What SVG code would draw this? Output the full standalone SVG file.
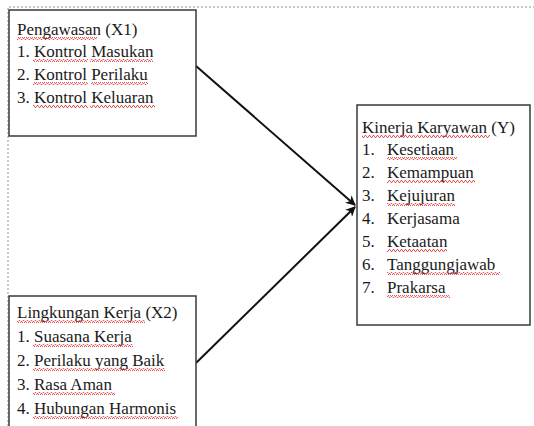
<svg xmlns="http://www.w3.org/2000/svg" width="534" height="426" viewBox="0 0 534 426">
<style>
.box{fill:#fff;stroke:#3a3a3a;stroke-width:1.5}
.t{font-family:'Liberation Serif','DejaVu Serif',serif;font-size:17px;fill:#1a1a1a}
.frame{stroke:#b8b8b8;stroke-width:1.5;stroke-dasharray:2 2;fill:none}
.conn{stroke:#111;stroke-width:2;fill:none}
.sq{fill:url(#wave)}
</style>
<defs>
<pattern id="wave" width="4" height="3" patternUnits="userSpaceOnUse">
<polyline points="0,2.5 1,0.5 2,0.5 3,2.5 4,2.5" fill="none" stroke="#e03030" stroke-width="0.8"/>
</pattern>
<marker id="arr" markerWidth="10" markerHeight="10" refX="9" refY="5" orient="auto" markerUnits="userSpaceOnUse">
<path d="M0,0 L10,5 L0,10 L3,5 Z" fill="#111"/>
</marker>
</defs>
<rect width="534" height="426" fill="#fff"/>
<path class="frame" d="M8,426 V7 H534"/>
<g id="connectors">
<line class="conn" x1="196" y1="66" x2="355" y2="205" marker-end="url(#arr)"/>
<line class="conn" x1="196" y1="363" x2="355" y2="207" marker-end="url(#arr)"/>
</g>
<g id="x1">
<rect class="box" x="9" y="10" width="187" height="126"/>
<text class="t" x="17" y="35">Pengawasan (X1)</text>
<text class="t" x="17" y="57">1. Kontrol Masukan</text>
<text class="t" x="17" y="80">2. Kontrol Perilaku</text>
<text class="t" x="17" y="103">3. Kontrol Keluaran</text>
<rect class="sq" x="17" y="37" width="80" height="3"/>
<rect class="sq" x="33" y="59" width="55" height="3"/>
<rect class="sq" x="90" y="59" width="63" height="3"/>
<rect class="sq" x="33" y="82" width="55" height="3"/>
<rect class="sq" x="91" y="82" width="57" height="3"/>
<rect class="sq" x="33" y="105" width="55" height="3"/>
<rect class="sq" x="90" y="105" width="65" height="3"/>
</g>
<g id="x2">
<rect class="box" x="9" y="296" width="187" height="140"/>
<text class="t" x="17" y="318">Lingkungan Kerja (X2)</text>
<text class="t" x="17" y="342">1. Suasana Kerja</text>
<text class="t" x="17" y="366">2. Perilaku yang Baik</text>
<text class="t" x="17" y="390">3. Rasa Aman</text>
<text class="t" x="17" y="414">4. Hubungan Harmonis</text>
<rect class="sq" x="17" y="320" width="128" height="3"/>
<rect class="sq" x="33" y="344" width="100" height="3"/>
<rect class="sq" x="33" y="368" width="132" height="3"/>
<rect class="sq" x="33" y="392" width="82" height="3"/>
<rect class="sq" x="33" y="416" width="145" height="3"/>
</g>
<g id="y">
<rect class="box" x="357" y="105" width="173" height="220"/>
<text class="t" x="362" y="133">Kinerja Karyawan (Y)</text>
<text class="t" x="362" y="155">1.</text><text class="t" x="387" y="155">Kesetiaan</text>
<text class="t" x="362" y="178">2.</text><text class="t" x="387" y="178">Kemampuan</text>
<text class="t" x="362" y="201">3.</text><text class="t" x="387" y="201">Kejujuran</text>
<text class="t" x="362" y="224">4.</text><text class="t" x="387" y="224">Kerjasama</text>
<text class="t" x="362" y="247">5.</text><text class="t" x="387" y="247">Ketaatan</text>
<text class="t" x="362" y="270">6.</text><text class="t" x="387" y="270">Tanggungjawab</text>
<text class="t" x="362" y="293">7.</text><text class="t" x="387" y="293">Prakarsa</text>
<rect class="sq" x="362" y="135" width="128" height="3"/>
<rect class="sq" x="387" y="157" width="70" height="3"/>
<rect class="sq" x="387" y="180" width="88" height="3"/>
<rect class="sq" x="387" y="203" width="68" height="3"/>
<rect class="sq" x="387" y="249" width="60" height="3"/>
<rect class="sq" x="387" y="272" width="113" height="3"/>
<rect class="sq" x="387" y="295" width="63" height="3"/>
</g>
</svg>
